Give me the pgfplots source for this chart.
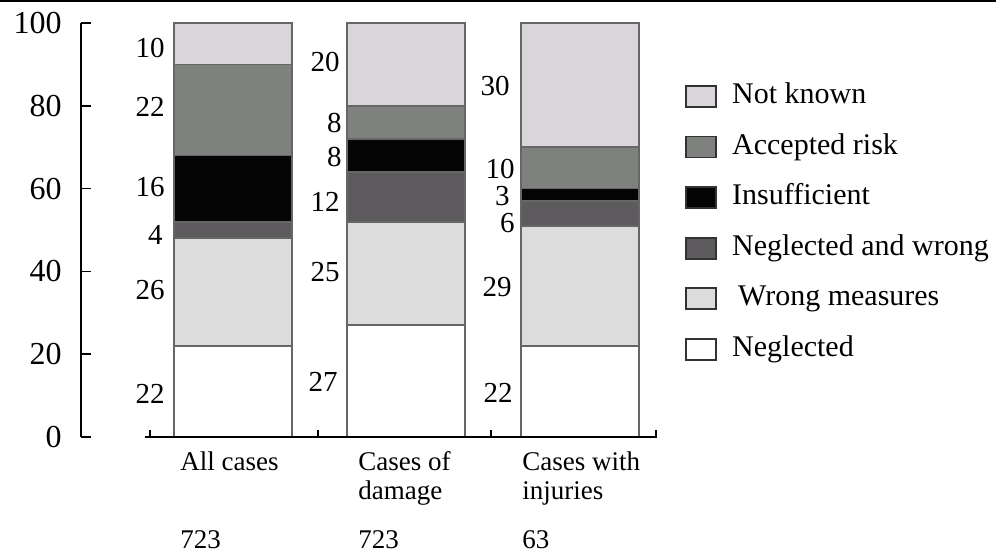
\documentclass[border=0pt]{standalone}
\usepackage{fontspec}
\setmainfont{Liberation Serif}
\usepackage{pgfplots}
\pgfplotsset{compat=1.18}
\definecolor{cNK}{HTML}{DAD5DA}
\definecolor{cAR}{HTML}{7F817E}
\definecolor{cIN}{HTML}{050505}
\definecolor{cNW}{HTML}{5D5B5D}
\definecolor{cWM}{HTML}{DCDCDC}
\definecolor{cNE}{HTML}{FFFFFF}
\begin{document}
\begin{tikzpicture}
\path[use as bounding box] (0,0) rectangle (498pt,276.5pt);
\draw[line width=1.25pt] (0,275.9pt) -- (498pt,275.9pt);
\begin{axis}[
  at={(40.5pt,58pt)}, anchor=south west,
  x=0.5pt, y=2.07pt,
  xmin=81, xmax=657, ymin=0, ymax=100,
  axis x line=none, axis y line*=left,
  axis line style={-, line width=0.8pt},
  ytick={0,20,40,60,80,100},
  tick align=inside, major tick length=5pt,
  tick style={black, line width=0.8pt},
  yticklabel style={inner sep=0pt, xshift=-9.5pt, font=\fontsize{16}{16}\selectfont},
  /pgf/number format/assume math mode=true,
  ybar stacked, bar width=59pt,
  clip=false,
  reverse legend,
  legend style={at={(1.0486,0.855)}, anchor=north west, draw=none, fill=none, inner sep=0pt, row sep=12.3pt, column sep=7.5pt, font=\fontsize{15}{15}\selectfont, nodes={inner sep=0pt, text height=10pt, text depth=3pt}},
  legend cell align=left,
  legend image code/.code={\draw[#1, draw=black!80, line width=0.9pt] (0pt,-5.25pt) rectangle (15pt,5.25pt);},
  every axis plot/.append style={draw=black!60, line width=0.8pt},
]
\addplot[fill=cNE] coordinates {(233,22) (406,27) (580,22)};
\addlegendentry{Neglected}
\addplot[fill=cWM] coordinates {(233,26) (406,25) (580,29)};
\addlegendentry{\hspace{3pt}Wrong measures}
\addplot[fill=cNW] coordinates {(233,4) (406,12) (580,6)};
\addlegendentry{Neglected and wrong}
\addplot[fill=cIN] coordinates {(233,16) (406,8) (580,3)};
\addlegendentry{Insufficient}
\addplot[fill=cAR] coordinates {(233,22) (406,8) (580,10)};
\addlegendentry{Accepted risk}
\addplot[fill=cNK] coordinates {(233,10) (406,20) (580,30)};
\addlegendentry{Not known}
\end{axis}
\begin{axis}[
  at={(72.5pt,58pt)}, anchor=south west,
  x=0.5pt, y=2.07pt,
  xmin=145, xmax=657, ymin=0, ymax=100,
  axis y line=none, axis x line*=bottom,
  axis line style={-, line width=0.8pt},
  xtick={150,318,491,656}, xticklabels={},
  ytick=\empty,
  tick align=inside, major tick length=3.5pt,
  tick style={black, line width=0.8pt},
  clip=false,
]
\addplot[draw=none, nodes near coords, point meta=explicit symbolic,
  every node near coord/.append style={anchor=east, inner sep=0pt, font=\fontsize{14.5}{14.5}\selectfont}]
  coordinates {
  (165,94) [10] (165,79.7) [22] (165,60.4) [16] (163,48.8) [4] (165,35.5) [26] (165,10.4) [22]
  (340,90.6) [20] (342,75.8) [8] (342,67.6) [8] (340,56.8) [12] (340,39.9) [25] (338,13.3) [27]
  (510,84.8) [30] (515,64.7) [10] (510,58.2) [3] (515,51.7) [6] (512,36.2) [29] (513,10.6) [22]
  };
\end{axis}
\begin{scope}[every node/.style={anchor=base west, inner sep=0pt, font=\fontsize{13.5}{13.5}\selectfont}]
\node at (90pt,41.5pt) {All cases};
\node at (179pt,41.5pt) {Cases of};
\node at (179pt,27pt) {damage};
\node at (261pt,41.5pt) {Cases with};
\node at (261pt,27pt) {injuries};
\node at (90pt,2.5pt) {723};
\node at (179pt,2.5pt) {723};
\node at (261pt,2.5pt) {63};
\end{scope}
\end{tikzpicture}
\end{document}
